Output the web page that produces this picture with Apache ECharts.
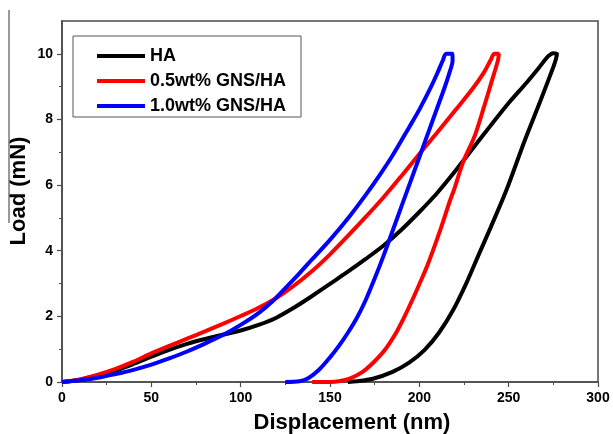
<!DOCTYPE html>
<html>
<head>
<meta charset="utf-8">
<script src="https://cdn.jsdelivr.net/npm/echarts@6/dist/echarts.min.js"></script>
<style>
html,body{margin:0;padding:0;background:#fff;}
#c{width:613px;height:434px;}
</style>
</head>
<body>
<div id="c"></div>
<script>
const seriesNames = ['HA', '0.5wt% GNS/HA', '1.0wt% GNS/HA'];
const seriesColors = ['#000000', '#ff0000', '#0000ff'];

// HA: loading then unloading, [displacement nm, load mN]
const haCurve = [
  [0,0],[10,0.07],[20,0.2],[30,0.35],[40,0.55],[50,0.77],[60,0.98],[70,1.16],[80,1.31],[90,1.44],
  [100,1.57],[110,1.74],[120,1.96],[130,2.27],[140,2.62],[150,2.99],[160,3.36],[170,3.75],[180,4.16],
  [190,4.64],[200,5.18],[210,5.76],[220,6.42],[230,7.12],[240,7.82],[250,8.5],[260,9.12],[267,9.58],
  [272,9.92],[275,10.02],[277,10.0],
  [276.5,9.85],[275,9.6],[268,8.6],[259,7.36],[248.7,5.84],[240,4.72],[233,3.85],[226.4,3.02],
  [219,2.2],[211,1.5],[203,0.98],[194.5,0.6],[185,0.31],[174,0.1],[165,0.02],[160,0]
];
// 0.5wt% GNS/HA
const gns05Curve = [
  [0,0],[10,0.08],[20,0.22],[30,0.4],[40,0.62],[50,0.87],[60,1.1],[70,1.32],[80,1.54],[90,1.77],
  [100,2.01],[110,2.26],[120,2.56],[130,2.94],[140,3.38],[150,3.89],[160,4.45],[170,5.03],[180,5.63],
  [190,6.28],[200,6.95],[210,7.6],[220,8.27],[230,8.95],[236,9.42],[240,9.82],[242,10.0],[244.5,10.0],
  [244,9.8],[241,9.25],[236,8.35],[231,7.5],[224.5,6.7],[219.7,5.9],[217,5.5],[211,4.52],
  [204.5,3.55],[200,2.98],[196,2.49],[191.5,1.97],[187,1.5],[181,1.0],[174,0.58],[168,0.3],
  [161,0.1],[155,0.02],[150,0],[140,0]
];
// 1.0wt% GNS/HA
const gns10Curve = [
  [0,0],[10,0.05],[20,0.13],[30,0.24],[40,0.37],[50,0.53],[60,0.72],[70,0.93],[80,1.17],[90,1.43],
  [100,1.74],[110,2.1],[118,2.47],[125,2.86],[133,3.32],[140,3.74],[150,4.33],[160,4.98],[170,5.7],
  [178,6.32],[185,6.9],[194.5,7.78],[200,8.3],[205.7,8.9],[210,9.4],[213,9.78],[215,10.0],[218.5,10.0],
  [218.6,9.8],[217,9.45],[214,8.95],[210,8.35],[205,7.6],[200,6.85],[195,6.1],[190,5.35],
  [185,4.6],[180,3.85],[175,3.15],[170,2.5],[165,1.95],[160,1.5],[155,1.1],[150,0.75],
  [144,0.38],[138,0.12],[133,0.02],[125,0]
];

const xTicks = [0, 50, 100, 150, 200, 250, 300];
const yTicks = [0, 2, 4, 6, 8, 10];
const yMinorTicks = [1, 3, 5, 7, 9];
const xTitle = 'Displacement (nm)';
const yTitle = 'Load (mN)';

const FONT = 'Arial, "Liberation Sans", sans-serif';
const AX = '#4a4a4a';

const chart = echarts.init(document.getElementById('c'), null, {renderer: 'canvas'});
const curves = [haCurve, gns05Curve, gns10Curve];

chart.setOption({
  animation: false,
  backgroundColor: '#ffffff',
  grid: {left: 62, right: 15, top: 21, bottom: 52, show: true, borderColor: AX, borderWidth: 1.5, backgroundColor: 'transparent'},
  legend: {
    data: seriesNames,
    orient: 'vertical',
    left: 73, top: 36,
    padding: [11, 15, 2, 24],
    itemGap: 7,
    itemWidth: 48, itemHeight: 4,
    icon: 'rect',
    borderColor: '#555', borderWidth: 1,
    textStyle: {fontFamily: FONT, fontWeight: 'bold', fontSize: 18, color: '#000', lineHeight: 18}
  },
  xAxis: {
    type: 'value', min: 0, max: 300, interval: 50,
    axisLine: {show: true, lineStyle: {color: AX, width: 1.5}},
    axisTick: {show: true, inside: false, length: 5, lineStyle: {color: AX, width: 1.2}, customValues: xTicks},
    minorTick: {show: true, splitNumber: 2, length: 3, lineStyle: {color: AX, width: 1}},
    splitLine: {show: false},
    axisLabel: {customValues: xTicks, margin: 9, fontFamily: FONT, fontWeight: 'bold', fontSize: 14, color: '#000'}
  },
  yAxis: [{
    type: 'value', min: 0, max: 11,
    axisLine: {show: true, lineStyle: {color: AX, width: 1.5}},
    axisTick: {show: true, inside: false, length: 5, lineStyle: {color: AX, width: 1.2}, customValues: yTicks},
    splitLine: {show: false},
    axisLabel: {customValues: yTicks, margin: 9, fontFamily: FONT, fontWeight: 'bold', fontSize: 14, color: '#000'}
  }, {
    type: 'value', min: 0, max: 11, position: 'left',
    axisLine: {show: false},
    axisTick: {show: true, inside: false, length: 3, lineStyle: {color: AX, width: 1}, customValues: yMinorTicks},
    splitLine: {show: false},
    axisLabel: {show: false}
  }],
  graphic: [
    {type: 'text', x: 352, y: 423, style: {text: xTitle, font: 'bold 22px ' + FONT, fill: '#000', textAlign: 'center', textVerticalAlign: 'middle'}},
    {type: 'text', x: 19, y: 191, rotation: Math.PI / 2, style: {text: yTitle, font: 'bold 22px ' + FONT, fill: '#000', textAlign: 'center', textVerticalAlign: 'middle'}},
    {type: 'line', shape: {x1: 9, y1: 10, x2: 9, y2: 223}, style: {stroke: '#777', lineWidth: 1.5}}
  ],
  series: curves.map((d, i) => ({
    name: seriesNames[i],
    type: 'line',
    data: d,
    xAxisIndex: 0, yAxisIndex: 0,
    showSymbol: false,
    smooth: 0.3,
    clip: true,
    color: seriesColors[i],
    lineStyle: {color: seriesColors[i], width: 4},
    z: 2 + i
  }))
});
</script>
</body>
</html>
